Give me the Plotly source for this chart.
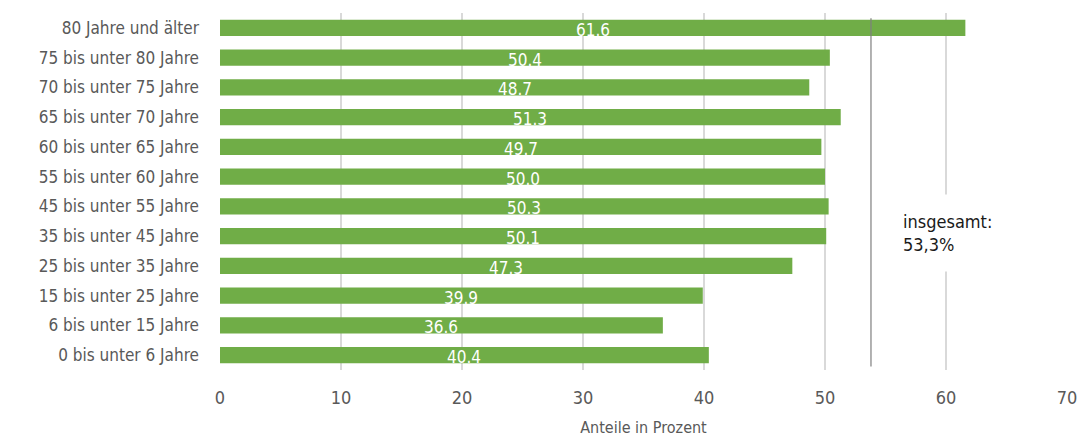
import plotly.graph_objects as go

# age groups, bottom to top
groups = [
    "0 bis unter 6 Jahre",
    "6 bis unter 15 Jahre",
    "15 bis unter 25 Jahre",
    "25 bis unter 35 Jahre",
    "35 bis unter 45 Jahre",
    "45 bis unter 55 Jahre",
    "55 bis unter 60 Jahre",
    "60 bis unter 65 Jahre",
    "65 bis unter 70 Jahre",
    "70 bis unter 75 Jahre",
    "75 bis unter 80 Jahre",
    "80 Jahre und älter",
]
shares = [40.4, 36.6, 39.9, 47.3, 50.1, 50.3, 50.0, 49.7, 51.3, 48.7, 50.4, 61.6]
total_line = 53.8
total_text = "insgesamt:<br>53,3%"
x_ticks = [0, 10, 20, 30, 40, 50, 60, 70]

FONT = "DejaVu Sans Condensed, sans-serif"
GREEN = "#70ad47"

fig = go.Figure()
fig.add_trace(
    go.Bar(
        y=groups,
        x=shares,
        orientation="h",
        marker=dict(color=GREEN, line=dict(width=0)),
        width=0.54,
        hoverinfo="skip",
    )
)

# value labels centred in each bar
for g, v in zip(groups, shares):
    fig.add_annotation(
        x=v / 2, y=g, text=f"{v:.1f}", showarrow=False, yshift=-2,
        font=dict(family=FONT, size=17, color="white"),
    )

# overall share line
fig.add_shape(
    type="line", xref="x", yref="paper", x0=total_line, x1=total_line,
    y0=0.01, y1=0.985, line=dict(color="#7f7f7f", width=1.2), layer="above",
)
fig.add_annotation(
    xref="x", yref="paper", x=total_line + 1.2, y=0.385, text=total_text,
    showarrow=False, xanchor="left", yanchor="middle", align="left",
    bgcolor="white", borderpad=16,
    font=dict(family=FONT, size=18, color="#1a1a1a"),
)

# page body has an 8px margin, so the figure is sized/offset for that
fig.update_layout(
    width=1078,
    height=429,
    margin=dict(l=212, r=19, t=5, b=67, autoexpand=False),
    plot_bgcolor="white",
    paper_bgcolor="white",
    showlegend=False,
    bargap=0.46,
    font=dict(family=FONT, size=17, color="#595959"),
)
fig.update_xaxes(
    range=[0, 70],
    tickvals=x_ticks,
    showgrid=True,
    gridcolor="#d9d9d9",
    gridwidth=1.5,
    zeroline=False,
    showline=False,
    ticks="",
    automargin=False,
    ticklabelstandoff=15,
    tickfont=dict(size=18, color="#595959"),
    title=dict(text="Anteile in Prozent", font=dict(size=16, color="#595959"), standoff=16),
)
fig.update_yaxes(
    showgrid=False,
    zeroline=False,
    showline=False,
    ticks="",
    automargin=False,
    ticklabelstandoff=20,
    tickfont=dict(size=17, color="#595959"),
)

fig.write_html("out.html")
